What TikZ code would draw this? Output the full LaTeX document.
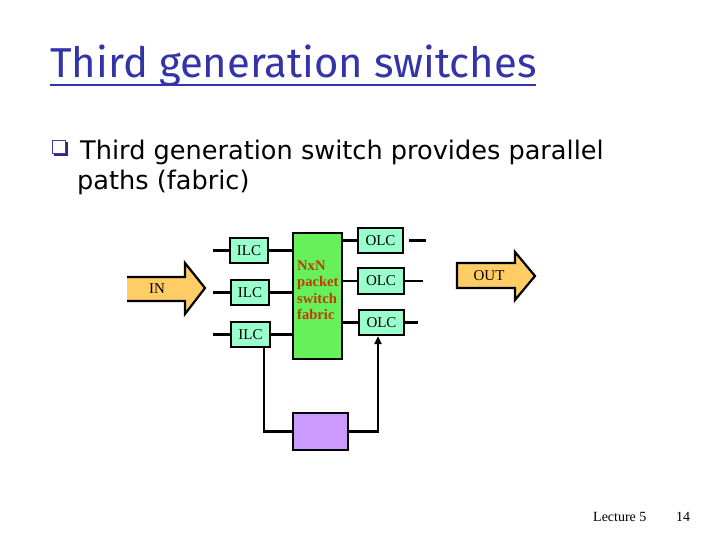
\documentclass[tikz,border=0pt]{standalone}
\usepackage{fontspec}
\setmainfont{Liberation Serif}
\newfontfamily\comic{Fira Sans}
\newfontfamily\bodyfont{DejaVu Sans}
\usetikzlibrary{arrows.meta}
\definecolor{titleblue}{RGB}{51,51,170}
\definecolor{bulletblue}{RGB}{60,60,170}
\definecolor{boxc}{RGB}{153,255,204}
\definecolor{fabc}{RGB}{102,240,90}
\definecolor{purc}{RGB}{204,153,255}
\definecolor{arrc}{RGB}{255,204,102}
\definecolor{fabtext}{RGB}{190,60,10}
\begin{document}
\begin{tikzpicture}[x=1pt,y=-1pt,
  lcbox/.style={draw, line width=2.2pt, fill=boxc, inner sep=0pt,
    font=\fontsize{15}{17}\selectfont},
  wire/.style={line width=2.2pt},
  bigarrow/.style={fill=arrc, draw, line width=2.2pt, line join=miter}]
\useasboundingbox (0,0) rectangle (720,540);

% title
\node[anchor=base west, inner sep=0pt, text=titleblue, font=\comic\fontsize{41.8}{46}\selectfont] (title) at (50,78) {Third generation switches};
\draw[titleblue, line width=2.6pt] (50,85) -- (536,85);

% bullet
\fill[bulletblue!70!black] (53.5,142.5) rectangle (67.5,156.5);
\fill[white] (52,141) rectangle (65,154);
\draw[bulletblue, line width=1pt] (52,141) rectangle (65,154);
\node[anchor=base west, inner sep=0pt, font=\bodyfont\fontsize{25.6}{30}\selectfont] (b1) at (80,160) {Third generation switch provides parallel};
\node[anchor=base west, inner sep=0pt, font=\bodyfont\fontsize{25.6}{30}\selectfont] (b2) at (77,190) {paths (fabric)};

% IN arrow
\path[fill=arrc] (127,277) -- (185,277) -- (185,263) -- (205,288) -- (185,314) -- (185,301) -- (127,301) -- cycle;
\draw[line width=2.2pt, line join=miter] (127,277) -- (185,277) -- (185,263) -- (205,288) -- (185,314) -- (185,301) -- (127,301);
\node[font=\fontsize{15}{17}\selectfont] (in) at (157,289) {IN};

% OUT arrow
\draw[bigarrow] (457,263) -- (515,263) -- (515,252) -- (535,276) -- (515,300) -- (515,288) -- (457,288) -- cycle;
\node[font=\fontsize{15}{17}\selectfont] (out) at (489,276) {OUT};

% line cards
\node[lcbox, minimum width=38pt, minimum height=25pt] (ilc1) at (249,250.5) {ILC};
\node[lcbox, minimum width=38pt, minimum height=25pt] (ilc2) at (250,292.5) {ILC};
\node[lcbox, minimum width=39pt, minimum height=25pt] (ilc3) at (250.5,334.5) {ILC};
\node[draw, line width=2.2pt, fill=fabc, minimum width=49pt, minimum height=126pt, inner sep=0pt] (fab) at (317.5,296) {};
\node[anchor=north west, inner sep=0pt, align=left, text=fabtext,
  font=\bfseries\fontsize{14.6}{16.5}\selectfont] (fabtxt) at (297,260.5) {NxN\\packet\\switch\\fabric};
\node[lcbox, minimum width=45pt, minimum height=25pt] (olc1) at (380.5,240.5) {OLC};
\node[lcbox, minimum width=46pt, minimum height=26pt] (olc2) at (381,281) {OLC};
\node[lcbox, minimum width=45pt, minimum height=25pt] (olc3) at (381.5,322.5) {OLC};
\node[draw, line width=2.2pt, fill=purc, minimum width=55pt, minimum height=37pt, inner sep=0pt] (pur) at (320.5,431.5) {};

% wires
\coordinate (l1) at (213,250.5);
\coordinate (l2) at (213,292.5);
\coordinate (l3) at (213,334.5);
\draw[wire] (l1) -- (ilc1.west);
\draw[wire] (l2) -- (ilc2.west);
\draw[wire] (l3) -- (ilc3.west);
\draw[wire] (ilc1.east) -- (ilc1.east -| fab.west);
\draw[wire] (ilc2.east) -- (ilc2.east -| fab.west);
\draw[wire] (ilc3.east) -- (ilc3.east -| fab.west);
\draw[wire] (olc1.west -| fab.east) -- (olc1.west);
\draw[wire] (olc2.west -| fab.east) -- (olc2.west);
\draw[wire] (olc3.west -| fab.east) -- (olc3.west);
\coordinate (r1a) at (409,240.5);
\coordinate (r1b) at (426,240.5);
\coordinate (r2) at (423,281);
\coordinate (r3) at (418,322.5);
\draw[wire] (r1a) -- (r1b);
\draw[wire] (olc2.east) -- (r2);
\draw[wire] (olc3.east) -- (r3);

% feedback loop
\draw[wire] ([xshift=13.5pt]ilc3.south) |- (pur.west);
\draw[wire, -{Triangle[length=8pt,width=7pt]}] (pur.east) -| ([xshift=-3.5pt]olc3.south);

% footer
\node[anchor=base west, inner sep=0pt, font=\fontsize{14}{16}\selectfont] (lec) at (593,521) {Lecture 5};
\node[anchor=base west, inner sep=0pt, font=\fontsize{14}{16}\selectfont] (pg) at (676,521) {14};
\end{tikzpicture}
\end{document}
